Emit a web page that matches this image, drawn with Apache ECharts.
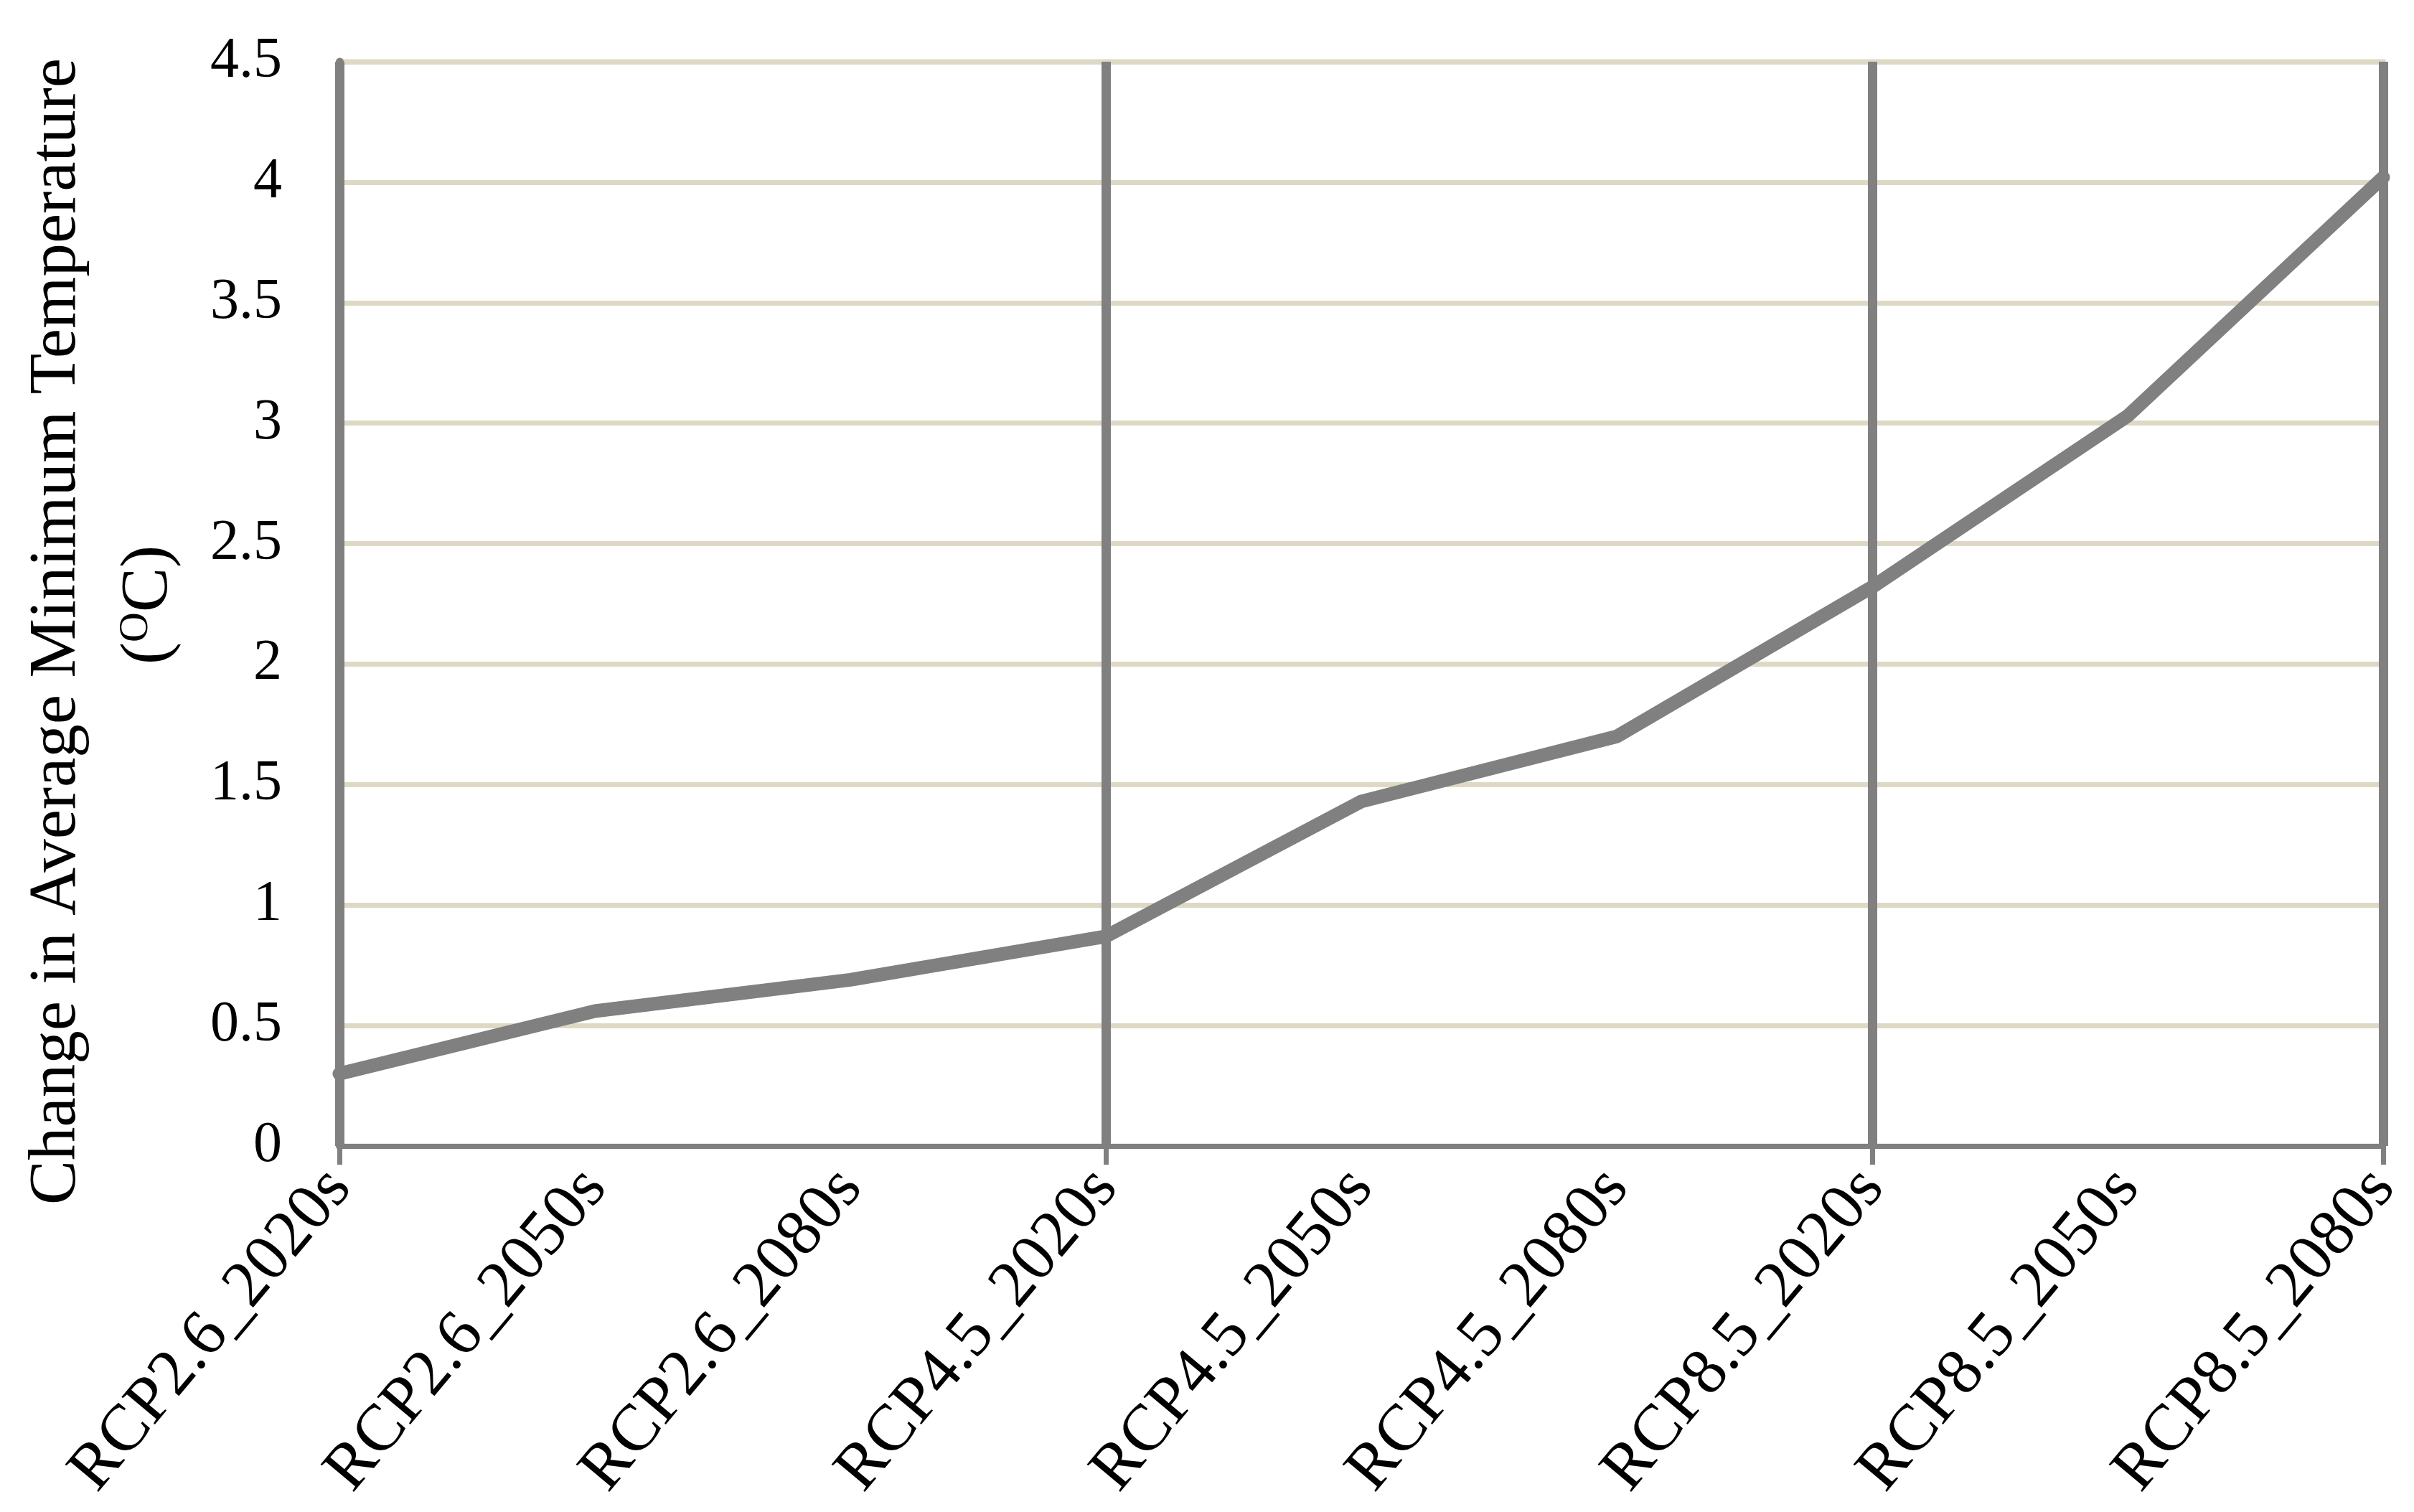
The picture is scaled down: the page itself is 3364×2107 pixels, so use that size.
<!DOCTYPE html>
<html>
<head>
<meta charset="utf-8">
<title>Change in Average Minimum Temperature</title>
<script src="https://cdn.jsdelivr.net/npm/echarts@6/dist/echarts.min.js"></script>
<style>
  html, body { margin: 0; padding: 0; background: #ffffff; }
  #chart { width: 3364px; height: 2107px; }
</style>
</head>
<body>
<div id="chart"></div>
<script>
// scenario / period categories on the x axis
const categories = [
  'RCP2.6_2020s', 'RCP2.6_2050s', 'RCP2.6_2080s',
  'RCP4.5_2020s', 'RCP4.5_2050s', 'RCP4.5_2080s',
  'RCP8.5_2020s', 'RCP8.5_2050s', 'RCP8.5_2080s'
]
// change in average minimum temperature (°C)
const minTempChange = [0.30, 0.56, 0.69, 0.87, 1.43, 1.70, 2.32, 3.03, 4.02]
// y axis ticks
const yMin = 0
const yMax = 4.5
const yStep = 0.5

const FONT = '"Liberation Serif", "DejaVu Serif", serif'
const GREY = '#808080'
const BEIGE = '#DDD9C4'

const chart = echarts.init(document.getElementById('chart'))

const option = {
  backgroundColor: '#ffffff',
  animation: false,
  grid: {
    left: 473,
    right: 43,
    top: 86,
    bottom: 510,
    show: true,
    borderColor: BEIGE,
    borderWidth: 7,
    containLabel: false
  },
  xAxis: {
    type: 'category',
    data: categories,
    boundaryGap: false,
    axisLine: { show: true, lineStyle: { color: GREY, width: 7 } },
    axisTick: { show: true, interval: 2, length: 26, lineStyle: { color: GREY, width: 7 } },
    // separators between the RCP groups
    splitLine: { show: true, interval: 2, lineStyle: { color: GREY, width: 13 } },
    axisLabel: {
      interval: 0,
      rotate: 50,
      margin: 44,
      color: '#000',
      fontFamily: FONT,
      fontSize: 92
    }
  },
  yAxis: {
    type: 'value',
    min: yMin,
    max: yMax,
    interval: yStep,
    axisLine: { show: true, lineStyle: { color: GREY, width: 11 } },
    axisTick: { show: false },
    splitLine: { show: true, lineStyle: { color: BEIGE, width: 7 } },
    axisLabel: {
      margin: 80,
      color: '#000',
      fontFamily: FONT,
      fontSize: 80
    }
  },
  graphic: [
    {
      type: 'text',
      x: 80,
      y: 880,
      rotation: Math.PI / 2,
      style: {
        text: 'Change in Average Minimum Temperature',
        fontFamily: FONT,
        fontSize: 93,
        fill: '#000',
        align: 'center',
        verticalAlign: 'middle'
      }
    },
    {
      type: 'text',
      x: 208,
      y: 843,
      rotation: Math.PI / 2,
      style: {
        text: '({sup|O}C)',
        fontFamily: FONT,
        fontSize: 93,
        fill: '#000',
        align: 'center',
        verticalAlign: 'middle',
        rich: {
          sup: { fontFamily: FONT, fontSize: 58, fill: '#000', padding: [0, 0, 36, 0] }
        }
      }
    }
  ],
  series: [
    {
      type: 'line',
      data: minTempChange,
      symbol: 'none',
      smooth: false,
      z: 3,
      lineStyle: { color: GREY, width: 19, cap: 'round', join: 'round' }
    }
  ]
}

chart.setOption(option)
</script>
</body>
</html>
